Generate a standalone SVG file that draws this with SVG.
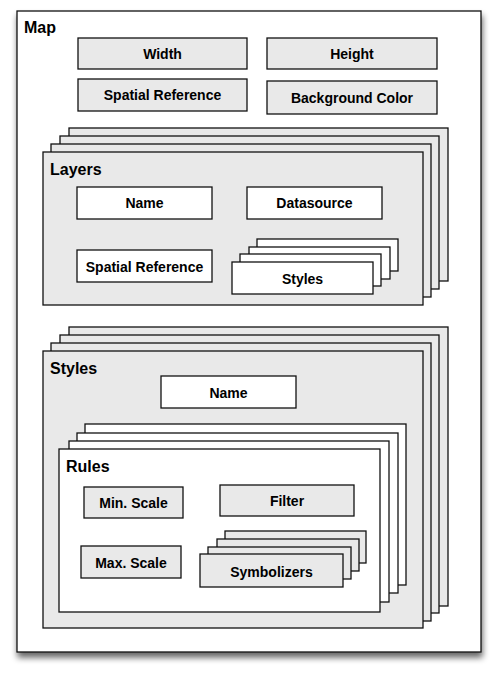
<svg xmlns="http://www.w3.org/2000/svg" width="495" height="673" viewBox="0 0 495 673">
<style>
rect{stroke:#111;stroke-width:1.3}
.g{fill:#e9e9e9}
.w{fill:#fff}
text{font-family:"Liberation Sans",Arial,sans-serif;font-weight:bold;fill:#000}
.t{font-size:16px}
.b{font-size:14px;text-anchor:middle}
</style>
<defs>
<filter id="sh" x="-10%" y="-10%" width="125%" height="125%">
<feGaussianBlur in="SourceAlpha" stdDeviation="3"/>
<feOffset dx="1" dy="5" result="o"/>
<feComponentTransfer><feFuncA type="linear" slope="0.6"/></feComponentTransfer>
<feMerge><feMergeNode/><feMergeNode in="SourceGraphic"/></feMerge>
</filter>
</defs>
<g id="map">
<rect x="17" y="11" width="464" height="641" class="w" filter="url(#sh)"/>
<text class="t" x="24" y="33">Map</text>
</g>
<g id="map-width"><rect x="78" y="38" width="169" height="31" class="g"/><text class="b" x="162.5" y="59">Width</text></g>
<g id="map-height"><rect x="267" y="38" width="170" height="31" class="g"/><text class="b" x="352" y="59">Height</text></g>
<g id="map-srs"><rect x="78" y="79" width="169" height="32" class="g"/><text class="b" x="162.5" y="100">Spatial Reference</text></g>
<g id="map-bg"><rect x="267" y="81" width="170" height="33" class="g"/><text class="b" x="352" y="103">Background Color</text></g>

<g id="layers">
<rect x="69" y="128" width="379" height="153" class="g"/>
<rect x="60" y="136" width="379" height="153" class="g"/>
<rect x="51" y="144" width="380" height="153" class="g"/>
<rect x="43" y="152" width="380" height="153" class="g"/>
<text class="t" x="50" y="175">Layers</text>
</g>
<g id="layer-name"><rect x="77" y="187" width="135" height="32" class="w"/><text class="b" x="144.5" y="208">Name</text></g>
<g id="layer-datasource"><rect x="247" y="187" width="135" height="32" class="w"/><text class="b" x="314.5" y="208">Datasource</text></g>
<g id="layer-srs"><rect x="77" y="250" width="135" height="32" class="w"/><text class="b" x="144.5" y="272">Spatial Reference</text></g>
<g id="layer-styles">
<rect x="257" y="239" width="141" height="32" class="w"/>
<rect x="249" y="247" width="141" height="32" class="w"/>
<rect x="240" y="254" width="141" height="32" class="w"/>
<rect x="232" y="262" width="141" height="32" class="w"/>
<text class="b" x="302.5" y="284">Styles</text>
</g>

<g id="styles">
<rect x="69" y="327" width="379" height="279" class="g"/>
<rect x="60" y="335" width="379" height="278" class="g"/>
<rect x="51" y="343" width="380" height="278" class="g"/>
<rect x="43" y="351" width="380" height="277" class="g"/>
<text class="t" x="50" y="374">Styles</text>
</g>
<g id="style-name"><rect x="161" y="376" width="135" height="32" class="w"/><text class="b" x="228.5" y="398">Name</text></g>

<g id="rules">
<rect x="85" y="424" width="321" height="161" class="w"/>
<rect x="77" y="433" width="321" height="160" class="w"/>
<rect x="69" y="441" width="320" height="161" class="w"/>
<rect x="59" y="449" width="321" height="163" class="w"/>
<text class="t" x="66" y="472">Rules</text>
</g>
<g id="rule-min"><rect x="84" y="487" width="99" height="31" class="g"/><text class="b" x="133.5" y="508">Min. Scale</text></g>
<g id="rule-filter"><rect x="220" y="485" width="134" height="31" class="g"/><text class="b" x="287" y="506">Filter</text></g>
<g id="rule-max"><rect x="81" y="546" width="100" height="32" class="g"/><text class="b" x="131" y="568">Max. Scale</text></g>
<g id="rule-symbolizers">
<rect x="225" y="531" width="141" height="32" class="g"/>
<rect x="217" y="539" width="142" height="32" class="g"/>
<rect x="208" y="547" width="143" height="32" class="g"/>
<rect x="200" y="554" width="143" height="33" class="g"/>
<text class="b" x="271.5" y="577">Symbolizers</text>
</g>
<g id="connectors"/>
</svg>
